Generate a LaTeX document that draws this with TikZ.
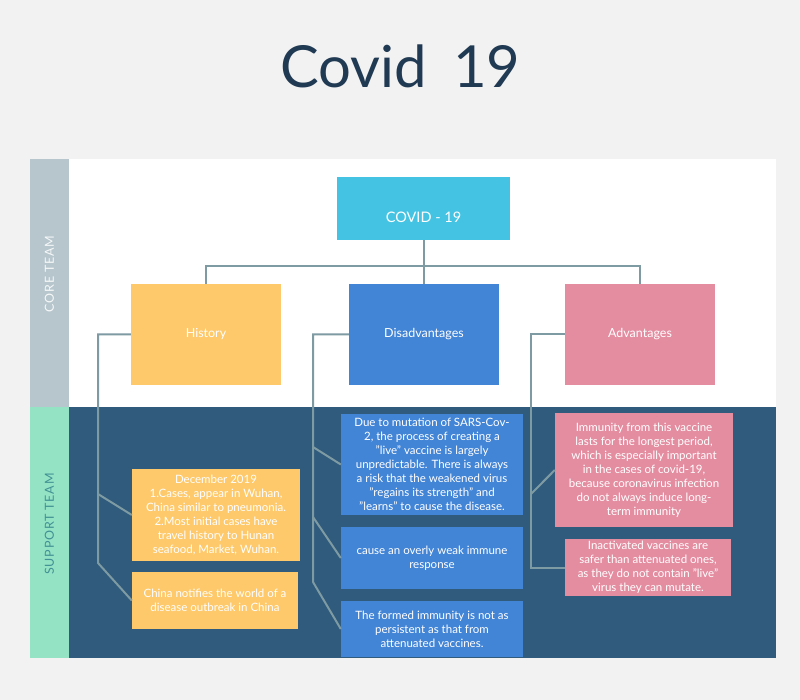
\documentclass[tikz,border=0pt]{standalone}
\usepackage{fontspec}
\setmainfont{Lato}
\usetikzlibrary{calc}

\definecolor{pagebg}{HTML}{F2F2F2}
\definecolor{corecol}{HTML}{B6C6CC}
\definecolor{supcol}{HTML}{95E3C5}
\definecolor{supbg}{HTML}{305B7D}
\definecolor{rootcol}{HTML}{45C3E3}
\definecolor{histcol}{HTML}{FEC96B}
\definecolor{discol}{HTML}{4284D6}
\definecolor{advcol}{HTML}{E48DA1}
\definecolor{linkcol}{HTML}{7E9AA2}
\definecolor{titlecol}{HTML}{213A53}

\begin{document}
\begin{tikzpicture}[x=1pt,y=-1pt,line cap=round,line join=round,
  box/.style={inner sep=0pt,text=white,align=center,font=\fontsize{11.5}{14}\selectfont},
  head/.style={box,minimum width=150pt,minimum height=101pt,font=\fontsize{12.5}{15}\selectfont},
  link/.style={draw=linkcol,line width=2pt,line cap=butt,line join=miter},
  lane/.style={rotate=90,font=\fontsize{12.5}{15}\selectfont\addfontfeatures{LetterSpace=6}}]
  \useasboundingbox[fill=pagebg] (0,0) rectangle (800,700);
  \node[anchor=base,text=titlecol,font=\fontsize{58}{58}\selectfont] (title) at (400.5,88) {Covid\hspace{0.2em} 19};
  % lanes
  \fill[white] (30,159) rectangle (776,407);
  \fill[supbg] (30,407) rectangle (776,658);
  \fill[corecol] (30,159) rectangle (69,407);
  \fill[supcol] (30,407) rectangle (69,658);
  \node[lane,text=white!88!corecol] (core) at (49.5,274) {CORE TEAM};
  \node[lane,text=supbg!55!supcol!70!teal] (support) at (49.5,524) {SUPPORT TEAM};
  % top level
  \node[box,fill=rootcol,minimum width=173pt,minimum height=63pt,text height=29pt,text depth=0pt,font=\fontsize{14.5}{17}\selectfont] (root) at (423.5,208.5) {COVID - 19};
  \node[head,fill=histcol] (hist) at (206,334.5) {History};
  \node[head,fill=discol] (dis) at (424,334.5) {Disadvantages};
  \node[head,fill=advcol] (adv) at (640,334.5) {Advantages};
  % history
  \node[box,fill=histcol,minimum width=168pt,minimum height=92pt] (h1) at (216,515) {December 2019\\1.Cases, appear in Wuhan,\\China similar to pneumonia.\\2.Most initial cases have\\travel history to Hunan\\seafood, Market, Wuhan.};
  \node[box,fill=histcol,minimum width=166pt,minimum height=57pt] (h2) at (215,600.5) {China notifies the world of a\\disease outbreak in China};
  % disadvantages
  \node[box,fill=discol,minimum width=182pt,minimum height=101pt] (d1) at (432,464.5) {Due to mutation of SARS-Cov-\\2, the process of creating a\\"live" vaccine is largely\\unpredictable. There is always\\a risk that the weakened virus\\"regains its strength" and\\"learns" to cause the disease.};
  \node[box,fill=discol,minimum width=182pt,minimum height=62pt] (d2) at (432,558) {cause an overly weak immune\\response};
  \node[box,fill=discol,minimum width=182pt,minimum height=56pt] (d3) at (432,629) {The formed immunity is not as\\persistent as that from\\attenuated vaccines.};
  % advantages
  \node[box,fill=advcol,minimum width=178pt,minimum height=114pt] (a1) at (644,470) {Immunity from this vaccine\\lasts for the longest period,\\which is especially important\\in the cases of covid-19,\\because coronavirus infection\\do not always induce long-\\term immunity};
  \node[box,fill=advcol,minimum width=166pt,minimum height=57pt] (a2) at (648,567.5) {Inactivated vaccines are\\safer than attenuated ones,\\as they do not contain "live"\\virus they can mutate.};
  % connectors
  \coordinate (bar) at (423.5,266);
  \draw[link] (hist.north) |- (bar) -| (adv.north);
  \draw[link] (root.south) -- (root.south |- dis.north);
  \coordinate (hx) at (98,494); \coordinate (dx) at (313,447); \coordinate (ax) at (531,494);
  \draw[link] (hist.west) -| ($(hx)+(0,69)$) -- (h2.west);
  \draw[link] (hx) -- (h1.west);
  \draw[link] (dis.west) -| ($(dx)+(0,135)$) -- (d3.west);
  \draw[link] (dx) -- (d1.west);
  \draw[link] (dx |- 0,517) -- (d2.west);
  \draw[link] (adv.west) -| (ax |- a2.west) -- (a2.west);
  \draw[link] (ax) -- (a1.west);
\end{tikzpicture}
\end{document}
